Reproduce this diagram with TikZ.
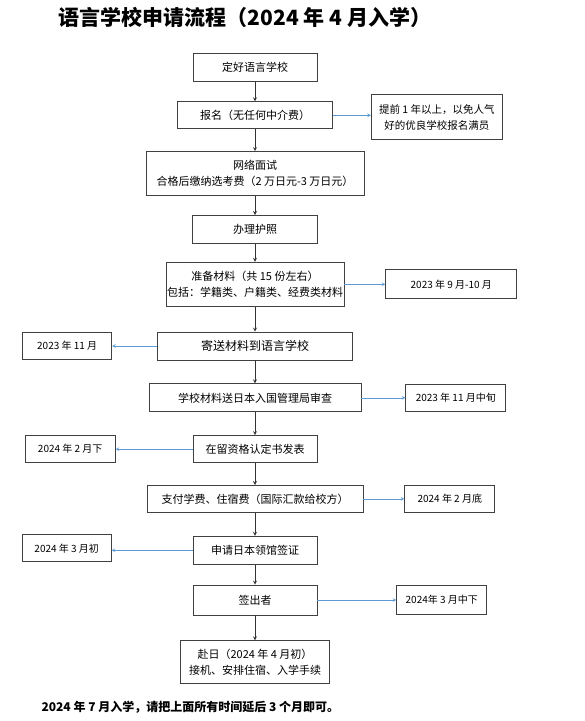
\documentclass[tikz,border=0pt]{standalone}
\usepackage{fontspec}
\setmainfont{Noto Sans CJK SC}
\usepackage{xcolor}
\usetikzlibrary{arrows, positioning}
\definecolor{sideblue}{RGB}{91,155,213}

\begin{document}
\begin{tikzpicture}[
    x=1pt, y=1pt,
    node distance=22pt,
    stepbox/.style={rectangle, draw=black!75, line width=0.8pt, align=center, inner sep=0pt, font=\fontsize{11}{16}\selectfont},
    datebox/.style={rectangle, draw=black!75, line width=0.8pt, align=center, inner sep=0pt, font=\fontsize{10}{15}\selectfont},
    arrow/.style={line width=0.8pt, ->, >=stealth, draw=black!80},
    sidearrow/.style={line width=0.6pt, ->, >=stealth, draw=sideblue}
]
    \useasboundingbox (0,0) rectangle (585,-721);

    % Title
    \node (title) at (245,-17) {\fontsize{21}{25}\selectfont\bfseries 语言学校申请流程（2024 年 4 月入学）};

    % Steps
    \node (choose) [stepbox, minimum width=124pt, minimum height=28pt] at (255,-67) {定好语言学校};
    \node (apply) [stepbox, minimum width=155pt, minimum height=27pt, below=20pt of choose] {报名（无任何中介费）};
    \node (interview) [stepbox, minimum width=218pt, minimum height=44pt, below=22pt of apply] {网络面试\\合格后缴纳选考费（2 万日元-3 万日元）};
    \node (passport) [stepbox, minimum width=125pt, minimum height=28pt, below=19pt of interview] {办理护照};
    \node (docs) [stepbox, minimum width=178pt, minimum height=44pt, below=18pt of passport] {准备材料（共 15 份左右）\\包括：学籍类、户籍类、经费类材料};
    \node (mail) [stepbox, minimum width=195pt, minimum height=28pt, below=25pt of docs, font=\fontsize{12}{16}\selectfont] {寄送材料到语言学校};
    \node (review) [stepbox, minimum width=212pt, minimum height=28pt, below=23pt of mail] {学校材料送日本入国管理局审查};
    \node (coe) [stepbox, minimum width=124pt, minimum height=27pt, below=23pt of review] {在留资格认定书发表};
    \node (fees) [stepbox, minimum width=216pt, minimum height=27pt, below=22pt of coe] {支付学费、住宿费（国际汇款给校方）};
    \node (visa) [stepbox, minimum width=124pt, minimum height=28pt, below=23pt of fees] {申请日本领馆签证};
    \node (issue) [stepbox, minimum width=124pt, minimum height=30pt, below=20pt of visa] {签出者};
    \node (depart) [stepbox, minimum width=149pt, minimum height=43pt, below=25pt of issue] {赴日（2024 年 4 月初）\\接机、安排住宿、入学手续};

    % Dates
    \node (early) [datebox, minimum width=131pt, minimum height=45pt, right=38pt of apply, yshift=-2pt, font=\fontsize{10.5}{16}\selectfont] {提前 1 年以上，以免人气\\好的优良学校报名满员};
    \node (dDocs) [datebox, minimum width=131pt, minimum height=29pt, right=41pt of docs] {2023 年 9 月-10 月};
    \node (dMail) [datebox, minimum width=89pt, minimum height=27pt, left=45pt of mail] {2023 年 11 月};
    \node (dReview) [datebox, minimum width=100pt, minimum height=27pt, right=44pt of review] {2023 年 11 月中旬};
    \node (dCoe) [datebox, minimum width=90pt, minimum height=27pt, left=77pt of coe] {2024 年 2 月下};
    \node (dFees) [datebox, minimum width=90pt, minimum height=27pt, right=41pt of fees] {2024 年 2 月底};
    \node (dVisa) [datebox, minimum width=89pt, minimum height=27pt, left=81pt of visa, yshift=2pt] {2024 年 3 月初};
    \node (dIssue) [datebox, minimum width=90pt, minimum height=29pt, right=79pt of issue] {2024年 3 月中下};

    % Footer
    \node (note) [anchor=west] at (38,-707) {\fontsize{12}{14}\selectfont\bfseries 2024 年 7 月入学，请把上面所有时间延后 3 个月即可。};

    % Flows
    \draw [arrow] (choose) -- (apply);
    \draw [arrow] (apply) -- (interview);
    \draw [arrow] (interview) -- (passport);
    \draw [arrow] (passport) -- (docs);
    \draw [arrow] (docs) -- (mail);
    \draw [arrow] (mail) -- (review);
    \draw [arrow] (review) -- (coe);
    \draw [arrow] (coe) -- (fees);
    \draw [arrow] (fees) -- (visa);
    \draw [arrow] (visa) -- (issue);
    \draw [arrow] (issue) -- (depart);

    % Side flows
    \draw [sidearrow] (apply.east) -- (apply.east -| early.west);
    \draw [sidearrow] (docs.east) -- (docs.east -| dDocs.west);
    \draw [sidearrow] (mail.west) -- (mail.west -| dMail.east);
    \draw [sidearrow] (review.east) -- (review.east -| dReview.west);
    \draw [sidearrow] (coe.west) -- (coe.west -| dCoe.east);
    \draw [sidearrow] (fees.east) -- (fees.east -| dFees.west);
    \draw [sidearrow] (visa.west) -- (visa.west -| dVisa.east);
    \draw [sidearrow] (issue.east) -- (issue.east -| dIssue.west);

\end{tikzpicture}
\end{document}
